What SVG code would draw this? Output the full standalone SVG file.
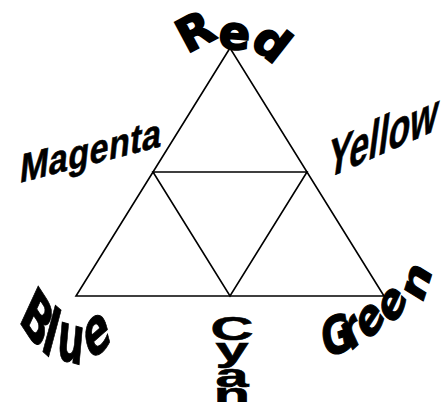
<svg xmlns="http://www.w3.org/2000/svg" width="445" height="402" viewBox="0 0 445 402">
<style>
.ln{fill:none;stroke:#000;stroke-width:1.6;stroke-linejoin:miter}
.lbl{fill:#000;stroke:#000;font-family:"Liberation Sans",Arial,sans-serif;font-weight:bold}
.heavy{font-family:"DejaVu Sans","Liberation Sans",sans-serif;font-weight:bold}
</style>
<rect width="445" height="402" fill="#fff"/>
<g id="connectors">
<polygon class="ln" points="230,48 76,296 384,296"/>
<polygon class="ln" points="153,172 307,172 230,296"/>
</g>
<g id="red">
<text class="lbl heavy" font-size="46" stroke-width="2" x="187 218 249" y="54 48 45" rotate="-28 4 38">Red</text>
</g>
<g id="magenta">
<text class="lbl" font-size="34" stroke-width="0.5" transform="translate(19,183) skewY(-14.5) skewX(-6) scale(1,1.18)" letter-spacing="0.5">Magenta</text>
</g>
<g id="yellow">
<text class="lbl" font-size="44" stroke-width="0.5" transform="translate(326,179) skewY(-24) skewX(-8) scale(0.8,1.2)">Yellow</text>
</g>
<g id="blue">
<text class="lbl heavy" font-size="68" stroke-width="1" transform="scale(0.55,1)" x="32.7 72.7 101.8 163.6" y="320 349 358 362" rotate="40 26 9 -26">Blue</text>
</g>
<g id="cyan">
<text class="lbl" font-size="33" stroke-width="0.6" text-anchor="middle" transform="scale(1.8,1)" x="128.9 128.9 128.9 128.9" y="340 361 387 406">Cyan</text>
</g>
<g id="green">
<text class="lbl heavy" font-size="52" stroke-width="1.2" transform="scale(0.72,1)" x="451.4 486.1 513 548 586" y="358 352 343 327 305" rotate="-14 -33 -47 -57 -66">Green</text>
</g>
</svg>
